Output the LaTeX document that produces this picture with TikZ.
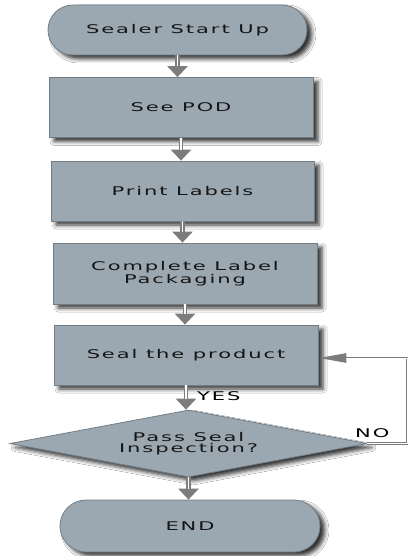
\documentclass[tikz,border=0pt]{standalone}
\usepackage{fontspec}
\newfontfamily\lblfont{DejaVu Sans}[FakeStretch=1.75,LetterSpace=16]
\usetikzlibrary{shapes.misc,shapes.geometric,arrows.meta,shadows.blur}
\definecolor{boxfill}{HTML}{9BA7B1}
\definecolor{boxline}{HTML}{737D85}
\definecolor{arrowc}{HTML}{7C7C7C}
\definecolor{textc}{HTML}{151515}
\begin{document}
\begin{tikzpicture}[x=1pt,y=-1pt,
  box/.style={rectangle, draw=boxline, line width=0.8pt, fill=boxfill,
    minimum width=264pt, minimum height=60pt, inner sep=2pt,
    font=\lblfont\fontsize{12}{11.5}\selectfont, text=textc, align=center,
    blur shadow={shadow xshift=5pt, shadow yshift=-4pt, shadow blur radius=4pt, shadow opacity=80}},
  term/.style={box, rounded rectangle, minimum height=50pt},
  dec/.style={box, diamond, aspect=5.3, minimum width=357pt, minimum height=67pt, inner sep=0pt},
  lab/.style={font=\lblfont\fontsize{12}{12}\selectfont, text=black, inner sep=0pt},
  flow/.style={draw=arrowc, line width=4.5pt, -{Triangle[width=20pt,length=11pt]},
    postaction={draw=white, line width=1.5pt, -, shorten >=11pt}},
  fbflow/.style={draw=arrowc, line width=2.6pt, line join=miter, -{Triangle[width=9pt,length=28pt]},
    postaction={draw=white, line width=0.9pt, -, shorten >=28pt}}
]
\useasboundingbox[fill=white] (0,0) rectangle (409,556);
\node[term, minimum width=263pt] (start) at (177.5,30) {Sealer Start Up};
\node[box] (pod) at (181,107.5) {See POD};
\node[box, minimum width=263pt] (print) at (182.5,191) {Print Labels};
\node[box, minimum height=61pt] (pack) at (185,273.5) {Complete Label\\Packaging};
\node[box] (seal) at (186,355) {Seal the product};
\node[dec] (insp) at (188.5,443.5) {Pass Seal\\Inspection?};
\node[term, minimum width=264pt, minimum height=52pt] (end) at (190,526) {END};
\coordinate (fb1) at (407,443.5);
\coordinate (fb2) at (407,358);
\draw[flow] (start.south) -- (start.south |- pod.north);
\draw[flow] (pod.south) -- (pod.south |- print.north);
\draw[flow] (print.south) -- (print.south |- pack.north);
\draw[flow] (pack.south) -- (pack.south |- seal.north);
\draw[flow] (seal.south) -- (seal.south |- insp.north);
\draw[flow] (insp.south) -- (insp.south |- end.north);
\draw[fbflow] (insp.east) -- (fb1) -- (fb2) -- (seal.east |- fb2);
\node[lab, anchor=west] (yes) at (197,396) {YES};
\node[lab, anchor=west] (no) at (355,433) {NO};
\end{tikzpicture}
\end{document}
